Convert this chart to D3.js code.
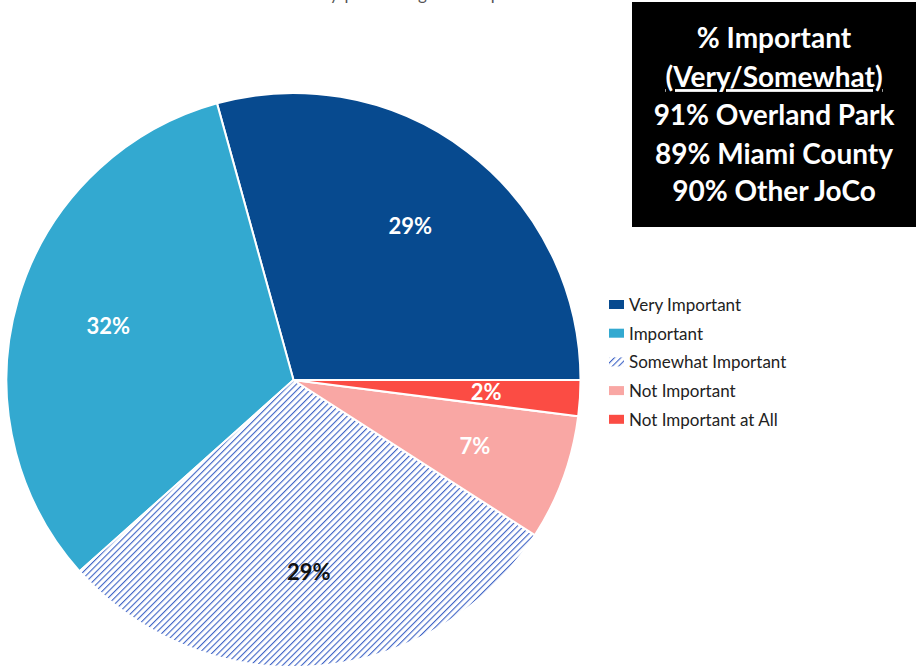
<!DOCTYPE html>
<html>
<head>
<meta charset="utf-8">
<script src="https://cdn.jsdelivr.net/npm/d3@7"></script>
<style>
  html, body { margin: 0; padding: 0; background: #fff; }
  svg { display: block; }
</style>
</head>
<body>
<svg id="chart" width="917" height="669"></svg>
<script>
// Importance ratings, share of respondents (%)
const categories = ["Very Important", "Important", "Somewhat Important", "Not Important", "Not Important at All"];
const values = [29, 32, 29, 7, 2];
const sliceColors = ["#074a8f", "#33a9d0", "url(#hatch)", "#f9a7a4", "#fb4c44"];
const labelColors = ["#ffffff", "#ffffff", "#111111", "#ffffff", "#ffffff"];
const subtitle = "By percentage of respondents";
const boxLines = ["% Important", "(Very/Somewhat)", "91% Overland Park", "89% Miami County", "90% Other JoCo"];

const svg = d3.select("#chart");
const font = "Lato, 'Open Sans', sans-serif";

// diagonal hatch for the "Somewhat Important" slice
const defs = svg.append("defs");
const pat = defs.append("pattern")
  .attr("id", "hatch")
  .attr("patternUnits", "userSpaceOnUse")
  .attr("width", 4.5).attr("height", 4.5)
  .attr("patternTransform", "rotate(45)");
pat.append("rect").attr("width", 4.5).attr("height", 4.5).attr("fill", "#ffffff");
pat.append("line")
  .attr("x1", 0).attr("y1", 0).attr("x2", 0).attr("y2", 4.5)
  .attr("stroke", "#3d63c6").attr("stroke-width", 2.2);

// subtitle sits at the very top edge of the drawing
svg.append("text")
  .attr("x", 443).attr("y", 0)
  .attr("text-anchor", "middle")
  .attr("font-family", font).attr("font-size", 17)
  .attr("fill", "#555")
  .attr("textLength", 250)
  .text(subtitle);

const cx = 293.5, cy = 380, r = 287;
const g = svg.append("g").attr("transform", `translate(${cx},${cy})`);

// slices run counter-clockwise from 3 o'clock
const pie = d3.pie().sort(null).value(d => d)
  .startAngle(Math.PI / 2).endAngle(Math.PI / 2 - 2 * Math.PI);
const arcs = pie(values);
const arc = d3.arc().innerRadius(0).outerRadius(r);
const labelArc = d3.arc().innerRadius(193).outerRadius(193);

g.selectAll("path.slice")
  .data(arcs)
  .join("path")
  .attr("class", "slice")
  .attr("d", arc)
  .attr("fill", (d, i) => sliceColors[i])
  .attr("stroke", "#ffffff")
  .attr("stroke-width", 2)
  .attr("stroke-linejoin", "round");

g.selectAll("text.lbl")
  .data(arcs)
  .join("text")
  .attr("class", "lbl")
  .attr("transform", d => `translate(${labelArc.centroid(d)})`)
  .attr("text-anchor", "middle")
  .attr("dy", "0.36em")
  .attr("font-family", font).attr("font-weight", 700).attr("font-size", 22)
  .attr("fill", (d, i) => labelColors[i])
  .text(d => d.data + "%");

// legend
const legend = svg.append("g").attr("transform", "translate(609,305)");
const rows = legend.selectAll("g")
  .data(categories)
  .join("g")
  .attr("transform", (d, i) => `translate(0,${i * 28.7})`);
rows.append("rect")
  .attr("x", 0).attr("y", -5).attr("width", 15).attr("height", 9)
  .attr("fill", (d, i) => sliceColors[i]);
rows.append("text")
  .attr("x", 20).attr("y", 0).attr("dy", "0.35em")
  .attr("font-family", font).attr("font-size", 17)
  .attr("fill", "#222")
  .text(d => d);

// summary box
const box = svg.append("g");
box.append("rect")
  .attr("x", 632).attr("y", 2).attr("width", 284).attr("height", 225)
  .attr("fill", "#000000");
const lineY = [38, 77, 115, 154, 191];
box.selectAll("text")
  .data(boxLines)
  .join("text")
  .attr("x", 774).attr("y", (d, i) => lineY[i])
  .attr("dy", "0.36em")
  .attr("text-anchor", "middle")
  .attr("font-family", font).attr("font-weight", 700).attr("font-size", 28)
  .attr("fill", "#ffffff")
  .attr("text-decoration", (d, i) => i === 1 ? "underline" : null)
  .text(d => d);
</script>
</body>
</html>
